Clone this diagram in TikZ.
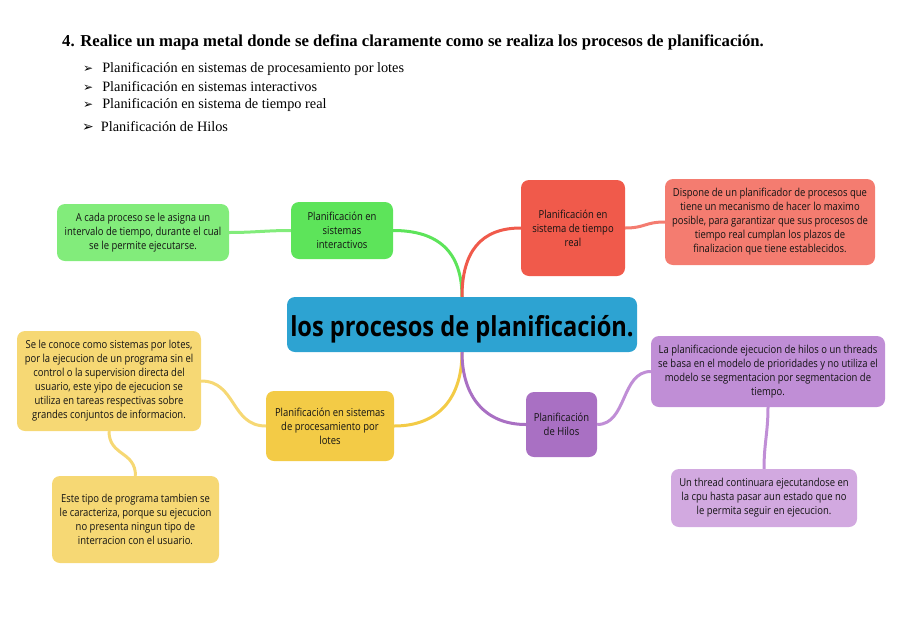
\documentclass[tikz,border=0pt]{standalone}
\usepackage{fontspec}
\setmainfont{Open Sans}[FakeStretch=0.86]
\newfontfamily\headfont{Liberation Serif}
\newfontfamily\symfont{DejaVu Sans}
\usetikzlibrary{positioning}

\definecolor{centralblue}{HTML}{2DA3D2}
\definecolor{greenmain}{HTML}{5DE45A}
\definecolor{greenleaf}{HTML}{82EC7B}
\definecolor{redmain}{HTML}{F05A4B}
\definecolor{redleaf}{HTML}{F47C70}
\definecolor{yellowmain}{HTML}{F3CB46}
\definecolor{yellowleaf}{HTML}{F6D874}
\definecolor{purplemain}{HTML}{A970C3}
\definecolor{purpleleaf}{HTML}{C08ED6}
\definecolor{purplelight}{HTML}{D2A9E0}

\tikzset{
  idea/.style={rounded corners=8pt, align=center, inner sep=3pt,
    text=black!92, font=\fontsize{11}{14}\selectfont},
  link/.style={line width=3pt},
  bullet/.style={anchor=west, inner sep=0pt, font=\headfont\fontsize{14.3}{16}\selectfont},
}

\begin{document}
\begin{tikzpicture}[x=1pt, y=-1pt]
  \useasboundingbox (0,0) rectangle (899,627);

  % heading and list
  \node[anchor=west, inner sep=0pt, font=\headfont\bfseries\fontsize{16.7}{20}\selectfont]
    (heading) at (62,42) {4. Realice un mapa metal donde se defina claramente como se realiza los procesos de planificación.};
  \node[bullet] (item1) at (83,69) {{\symfont\fontsize{12}{14}\selectfont ➢}\hspace{9pt}Planificación en sistemas de procesamiento por lotes};
  \node[bullet] (item2) at (83,87) {{\symfont\fontsize{12}{14}\selectfont ➢}\hspace{9pt}Planificación en sistemas interactivos};
  \node[bullet] (item3) at (83,105) {{\symfont\fontsize{12}{14}\selectfont ➢}\hspace{9pt}Planificación en sistema de tiempo real};
  \node[bullet] (item4) at (82,127) {{\symfont\fontsize{14}{16}\selectfont ➢}\hspace{7pt}Planificación de Hilos};

  % central idea
  \node[idea, fill=centralblue, minimum width=350pt, minimum height=55pt,
    font=\bfseries\fontsize{27.5}{31}\selectfont, text=black] (central) at (462,324.5)
    {\raisebox{-4pt}[21pt][6pt]{los procesos de planificación.}};

  % branches
  \node[idea, fill=greenmain, minimum width=102pt, minimum height=57pt] (inter) at (342,230.5)
    {Planificación en\\sistemas\\interactivos};
  \node[idea, fill=greenleaf, minimum width=172pt, minimum height=57pt] (interdesc) at (143,232.5)
    {A cada proceso se le asigna un\\intervalo de tiempo, durante el cual\\se le permite ejecutarse.};

  \node[idea, fill=redmain, minimum width=104pt, minimum height=96pt] (real) at (573,228)
    {Planificación en\\sistema de tiempo\\real};
  \node[idea, fill=redleaf, minimum width=210pt, minimum height=86pt] (realdesc) at (770,222)
    {Dispone de un planificador de procesos que\\tiene un mecanismo de hacer lo maximo\\posible, para garantizar que sus procesos de\\tiempo real cumplan los plazos de\\finalizacion que tiene establecidos.};

  \node[idea, fill=yellowmain, minimum width=128pt, minimum height=70pt] (lotes) at (330,426)
    {Planificación en sistemas\\de procesamiento por\\lotes};
  \node[idea, fill=yellowleaf, minimum width=184pt, minimum height=100pt] (lotesdesc) at (109,381)
    {Se le conoce como sistemas por lotes,\\por la ejecucion de un programa sin el\\control o la supervision directa del\\usuario, este yipo de ejecucion se\\utiliza en tareas respectivas sobre\\grandes conjuntos de informacion.};
  \node[idea, fill=yellowleaf, minimum width=167pt, minimum height=87pt] (lotesmore) at (135.5,519.5)
    {Este tipo de programa tambien se\\le caracteriza, porque su ejecucion\\no presenta ningun tipo de\\interracion con el usuario.};

  \node[idea, fill=purplemain, minimum width=71pt, minimum height=65pt] (hilos) at (561.5,424.5)
    {Planificación\\de Hilos};
  \node[idea, fill=purpleleaf, minimum width=234pt, minimum height=71pt] (hilosdesc) at (768,371.5)
    {La planificacionde ejecucion de hilos o un threads\\se basa en el modelo de prioridades y no utiliza el\\modelo se segmentacion por segmentacion de\\tiempo.};
  \node[idea, fill=purplelight, minimum width=186pt, minimum height=58pt] (hilosmore) at (764,498)
    {Un thread continuara ejecutandose en\\la cpu hasta pasar aun estado que no\\le permita seguir en ejecucion.};

  % connectors
  \draw[link, greenmain] (central.north) .. controls +(0,-45) and +(45,0) .. (inter.east);
  \draw[link, redmain] (central.north) .. controls +(0,-45) and +(-40,0) .. (real.west);
  \draw[link, yellowmain] (central.south) .. controls +(0,45) and +(45,0) .. (lotes.east);
  \draw[link, purplemain] (central.south) .. controls +(0,45) and +(-40,0) .. (hilos.west);

  \draw[link, greenleaf] (inter.west) .. controls +(-25,0) and +(25,0) .. (interdesc.east);
  \draw[link, redleaf] (real.east) .. controls +(20,0) and +(-20,0) .. (realdesc.west);
  \draw[link, yellowleaf] (lotes.west) .. controls +(-35,0) and +(35,0) .. (lotesdesc.east);
  \draw[link, yellowleaf] (lotesdesc.south) .. controls +(0,25) and +(0,-25) .. (lotesmore.north);
  \draw[link, purpleleaf] (hilos.east) .. controls +(30,0) and +(-30,0) .. (hilosdesc.west);
  \draw[link, purpleleaf] (hilosdesc.south) .. controls +(0,25) and +(0,-25) .. (hilosmore.north);
\end{tikzpicture}
\end{document}
